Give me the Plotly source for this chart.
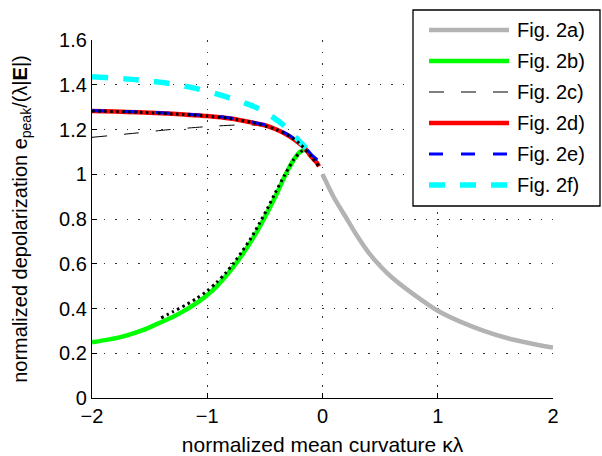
import plotly.graph_objects as go

# ---------------- data ----------------
a_x = [0.0, 0.1, 0.2, 0.3, 0.4, 0.5, 0.6, 0.8, 1.0, 1.2, 1.4, 1.6, 1.8, 2.0]
a_y = [1.0, 0.895, 0.81, 0.725, 0.65, 0.59, 0.54, 0.46, 0.39, 0.34, 0.30, 0.268, 0.245, 0.225]

b_x = [-2.0, -1.85, -1.711, -1.56, -1.422, -1.3, -1.19, -1.09, -1.0, -0.92, -0.843, -0.77,
       -0.698, -0.62, -0.553, -0.48, -0.409, -0.36, -0.307, -0.24, -0.195, -0.15]
b_y = [0.249, 0.262, 0.278, 0.303, 0.334, 0.362, 0.393, 0.425, 0.46, 0.498, 0.542, 0.588,
       0.639, 0.70, 0.758, 0.828, 0.90, 0.955, 1.012, 1.072, 1.10, 1.11]

c_x = [-2.0, -1.6, -1.36, -1.0, -0.745, -0.6, -0.5, -0.4, -0.3, -0.2, -0.1]
c_y = [1.165, 1.185, 1.198, 1.213, 1.22, 1.22, 1.215, 1.200, 1.174, 1.138, 1.08]

d_x = [-2.0, -1.8, -1.6, -1.4, -1.2, -1.0, -0.8, -0.6, -0.5, -0.4, -0.3, -0.2, -0.15, -0.1, -0.05, -0.03]
d_y = [1.283, 1.280, 1.277, 1.273, 1.267, 1.260, 1.249, 1.230, 1.219, 1.200, 1.174, 1.138, 1.115, 1.08, 1.052, 1.035]

e_x = [-2.0, -1.8, -1.6, -1.4, -1.2, -1.0, -0.8, -0.6, -0.5, -0.4, -0.3, -0.2, -0.15, -0.1, -0.04]
e_y = [1.285, 1.282, 1.279, 1.275, 1.269, 1.262, 1.251, 1.232, 1.221, 1.203, 1.177, 1.142, 1.119, 1.09, 1.062]

f_x = [-2.0, -1.65, -1.37, -1.1, -0.84, -0.58, -0.45, -0.34, -0.17, -0.09]
f_y = [1.436, 1.424, 1.409, 1.384, 1.347, 1.299, 1.262, 1.22, 1.131, 1.086]

# black dotted approximations (not in legend)
dot1_x = [-2.0, -1.6, -1.2, -1.0, -0.8, -0.6, -0.4, -0.3, -0.2, -0.1, -0.03]
dot1_y = [1.283, 1.277, 1.267, 1.260, 1.249, 1.230, 1.200, 1.174, 1.138, 1.08, 1.035]
dot2_x = [-1.40, -1.3, -1.19, -1.09, -1.0, -0.92, -0.843, -0.77, -0.698, -0.62, -0.553,
          -0.48, -0.409, -0.33, -0.25, -0.19, -0.15]
dot2_y = [0.358, 0.385, 0.415, 0.446, 0.479, 0.516, 0.557, 0.603, 0.655, 0.715, 0.775,
          0.845, 0.918, 0.995, 1.065, 1.10, 1.11]

legend_labels = ["Fig. 2a)", "Fig. 2b)", "Fig. 2c)", "Fig. 2d)", "Fig. 2e)", "Fig. 2f)"]
x_ticks = [-2, -1, 0, 1, 2]
y_ticks = [0, 0.2, 0.4, 0.6, 0.8, 1.0, 1.2, 1.4, 1.6]

# ---------------- styles ----------------
styles = [
    dict(color="#b3b3b3", width=4.5, dash="solid"),
    dict(color="#00ff00", width=4.5, dash="solid"),
    dict(color="black", width=1, dash="15px,17px"),
    dict(color="#ff0000", width=4.5, dash="solid"),
    dict(color="#0000ff", width=3, dash="14px,18px"),
    dict(color="#00ffff", width=5.5, dash="16px,15px"),
]
series = [(a_x, a_y), (b_x, b_y), (c_x, c_y), (d_x, d_y), (f_x, f_y), (e_x, e_y)]
order_idx = [0, 1, 2, 3, 5, 4]

FONT = "Liberation Sans, Arial, Helvetica, sans-serif"

fig = go.Figure()
for (xs, ys), idx in zip(series, order_idx):
    ln = dict(styles[idx])
    ln.update(shape="spline", smoothing=0.7)
    fig.add_trace(go.Scatter(x=xs, y=ys, mode="lines", name=legend_labels[idx],
                             line=ln, showlegend=False, hoverinfo="skip"))
for xs, ys in [(dot1_x, dot1_y), (dot2_x, dot2_y)]:
    fig.add_trace(go.Scatter(x=xs, y=ys, mode="lines", showlegend=False,
                             line=dict(color="black", width=3, dash="2.5px,3.5px",
                                       shape="spline", smoothing=0.7),
                             hoverinfo="skip"))

# plot area in pixels
L, R, T, B = 92, 553, 40, 398
W, H = 602, 456


def px(xp):
    return (xp - L) / (R - L)


def py(yp):
    return (B - yp) / (B - T)


# manual legend (matches the long sample lines of the original)
shapes = [dict(type="rect", xref="paper", yref="paper", x0=px(413), x1=px(600),
               y0=py(206), y1=py(10), fillcolor="white",
               line=dict(color="black", width=1.3), layer="above")]
annotations = []
rows = [30, 61, 92, 123, 154, 185]
for i, lab in enumerate(legend_labels):
    st = styles[i]
    shapes.append(dict(type="line", xref="paper", yref="paper", x0=px(429), x1=px(509),
                       y0=py(rows[i]), y1=py(rows[i]), layer="above",
                       line=dict(color=st["color"], width=st["width"], dash=st["dash"])))
    annotations.append(dict(xref="paper", yref="paper", x=px(515), y=py(rows[i]),
                            text=lab, showarrow=False, xanchor="left", yanchor="middle",
                            font=dict(family=FONT, size=20, color="black")))

fig.update_layout(
    width=W, height=H,
    margin=dict(l=L, r=W - R, t=T, b=H - B, autoexpand=False),
    plot_bgcolor="white", paper_bgcolor="white",
    font=dict(family=FONT, size=20, color="black"),
    shapes=shapes, annotations=annotations,
    xaxis=dict(range=[-2, 2], tickvals=x_ticks, showline=True, linecolor="black", linewidth=1.3,
               ticks="inside", ticklen=5, tickcolor="black", zeroline=False, automargin=False,
               showgrid=True, gridcolor="#333333", gridwidth=1, griddash="1.5px,10px",
               tickfont=dict(size=20),
               title=dict(text="normalized mean curvature κλ", font=dict(size=21), standoff=15)),
    yaxis=dict(range=[0, 1.6], tickvals=y_ticks, showline=True, linecolor="black", linewidth=1.3,
               ticks="inside", ticklen=5, tickcolor="black", zeroline=False, automargin=False,
               showgrid=True, gridcolor="#333333", gridwidth=1, griddash="1.5px,10px",
               tickfont=dict(size=20),
               title=dict(text="normalized depolarization e<sub>peak</sub>/(λ|<b>E</b>|)",
                          font=dict(size=20), standoff=26)),
)

fig.write_html("out.html")
